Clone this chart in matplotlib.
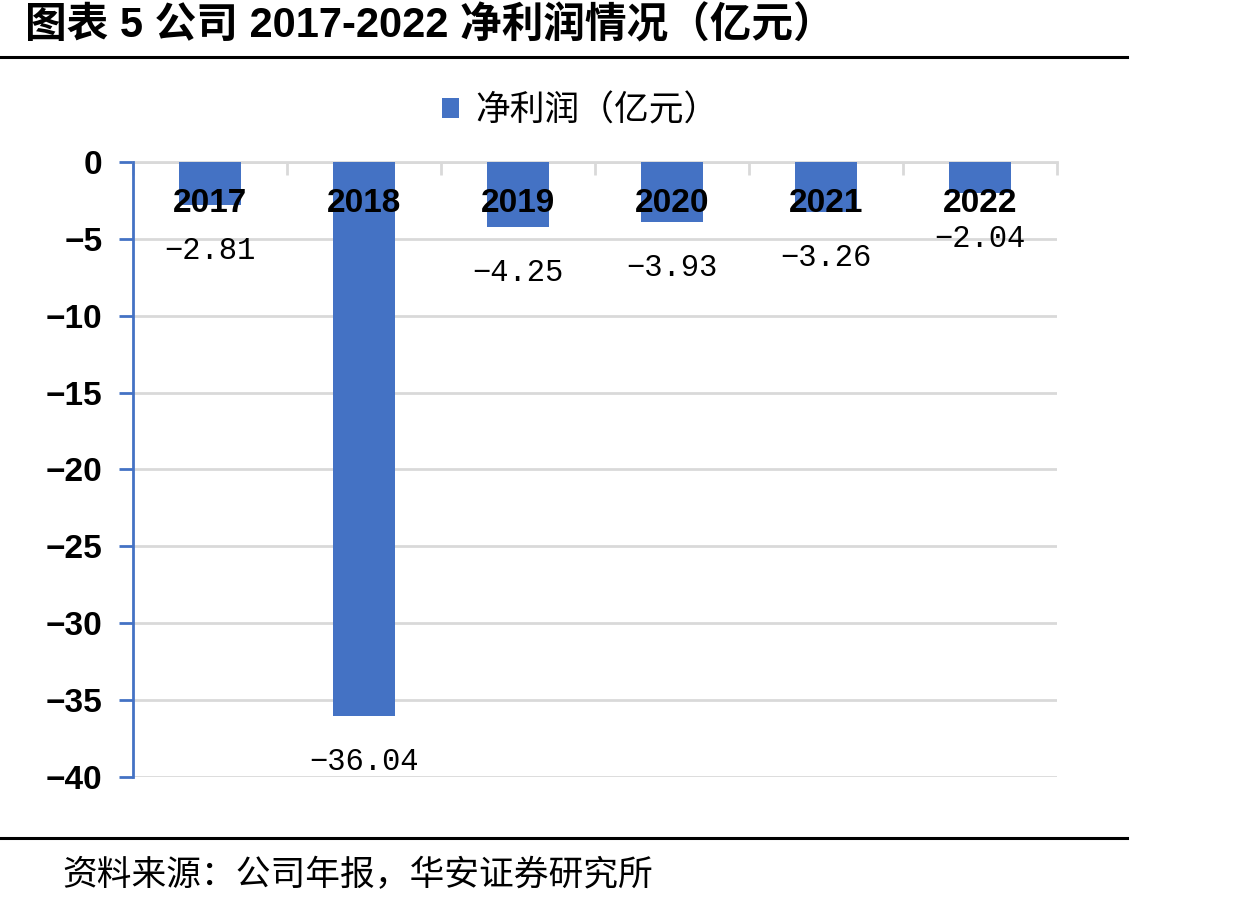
import matplotlib
matplotlib.use("Agg")
import matplotlib.pyplot as plt
import numpy as np

years = ["2017", "2018", "2019", "2020", "2021", "2022"]
net_profit = [-2.81, -36.04, -4.25, -3.93, -3.26, -2.04]
yticks = [0, -5, -10, -15, -20, -25, -30, -35, -40]

title = "图表 5 公司 2017-2022 净利润情况（亿元）"
legend_label = "净利润（亿元）"
source = "资料来源：公司年报，华安证券研究所"

blue = "#4472C4"
grid_gray = "#D9D9D9"
cjk = ["Noto Sans CJK SC", "DejaVu Sans"]
latin = ["Liberation Sans", "DejaVu Sans"]

fig = plt.figure(figsize=(12.37, 9.06), dpi=100)
ax = fig.add_axes([0.1075, 0.1424, 0.747, 0.6788])

x = np.arange(len(years))
bars = ax.bar(x, net_profit, width=0.4, color=blue, zorder=3, label=legend_label)

ax.set_xlim(-0.5, len(years) - 0.5)
ax.set_ylim(-40, 0)
ax.set_yticks(yticks)
ax.set_yticklabels(["0" if v == 0 else "\u2212%d" % abs(v) for v in yticks],
                   family=latin, fontsize=24, fontweight="bold")
ax.yaxis.grid(True, color=grid_gray, lw=2, zorder=0)
ax.tick_params(axis="y", color=blue, width=2, length=10, pad=12)

# category axis sits on the zero line at the top
ax.xaxis.tick_top()
ax.set_xticks(np.arange(-0.5, len(years), 1.0))
ax.set_xticklabels([])
ax.tick_params(axis="x", direction="in", color=grid_gray, width=2, length=9)

for s in ["right", "bottom"]:
    ax.spines[s].set_visible(False)
ax.spines["top"].set_color(grid_gray)
ax.spines["top"].set_linewidth(2)
ax.spines["left"].set_color(blue)
ax.spines["left"].set_linewidth(2)
ax.spines["left"].set_zorder(4)

# year labels drawn across the bars
for xi, yr in zip(x, years):
    ax.text(xi, 0.933, yr, transform=ax.get_xaxis_transform(), ha="center",
            va="center", fontsize=24, fontweight="bold", family=latin, zorder=5)

# value labels under each bar
for xi, v in zip(x, net_profit):
    ax.annotate("\u2212%.2f" % abs(v), (xi, v), xytext=(0, -33),
                textcoords="offset points", ha="center", va="center",
                fontsize=22, family=["Liberation Mono", "DejaVu Sans Mono"], zorder=5)

leg = fig.legend(handles=[bars], labels=[legend_label], loc="center",
                 bbox_to_anchor=(580 / 1237, 1 - 111 / 906), frameon=False,
                 prop={"family": cjk, "size": 25}, handlelength=0.5,
                 handleheight=0.5, handletextpad=0.45)

fig.text(0.02, 1 - 26 / 906, title, ha="left", va="center", fontsize=30,
         fontweight="bold", family=["Liberation Sans", "Noto Sans CJK SC"])
fig.add_artist(plt.Line2D([0, 1127 / 1237], [1 - 57 / 906] * 2, color="black", lw=2.2))
fig.add_artist(plt.Line2D([0, 1127 / 1237], [1 - 838 / 906] * 2, color="black", lw=2.2))
fig.text(62 / 1237, 1 - 876 / 906, source, ha="left", va="center", fontsize=25,
         family=cjk)

fig.savefig("out.png", dpi=100)
